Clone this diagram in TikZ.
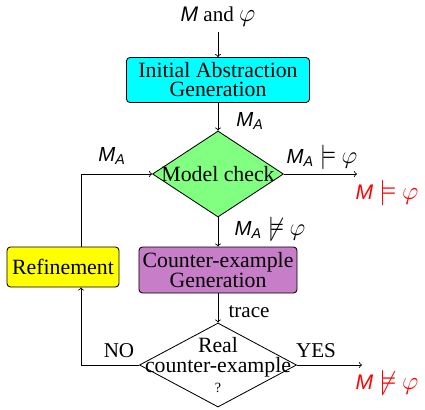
\RequirePackage{fix-cm}
\documentclass[tikz,border=0pt]{standalone}
\usepackage{amsmath}
\usepackage{graphicx}
\usepackage{fontspec}
\setmainfont{Liberation Serif}
\setsansfont{Liberation Sans}
\usetikzlibrary{shapes.geometric}

\newcommand{\sfit}[1]{\textsf{\itshape #1}}
\newcommand{\holdsrel}{\mathrel{\scalebox{1.2}{\(\models\)}}}
\newcommand{\failsrel}{\mathrel{\scalebox{1.2}{\(\not\models\)}}}
\newcommand{\prop}{\scalebox{1.2}{\(\varphi\)}}

\definecolor{abscyan}{RGB}{0,255,255}
\definecolor{checkgreen}{RGB}{128,255,128}
\definecolor{cexpurple}{RGB}{199,125,199}
\definecolor{refyellow}{RGB}{255,255,0}

\tikzset{
  stage/.style={draw, rounded corners=2.5pt, align=center, inner sep=0pt,
    font=\fontsize{15.5}{13.5}\selectfont},
  test/.style={draw, diamond, align=center, inner sep=-40pt,
    font=\fontsize{15.5}{14}\selectfont},
  lbl/.style={font=\fontsize{14.5}{16}\selectfont},
  res/.style={text=red, font=\fontsize{15}{17}\selectfont},
}

\begin{document}
\begin{tikzpicture}[x=0.025cm, y=-0.025cm, line width=0.6pt]
        \useasboundingbox (0,0) rectangle (425,409);
        \node[font=\fontsize{15}{17}\selectfont] (input) at (218,17) {\sfit{M} and \prop};
        \node[stage, fill=abscyan, minimum width=4.575cm, minimum height=1.125cm] (init) at (218,80) {Initial Abstraction\\Generation};
        \node[test, fill=checkgreen, minimum width=3.275cm, minimum height=2.15cm] (check) at (218,174) {Model check};
        \node[stage, fill=refyellow, minimum width=2.8cm, minimum height=1cm] (refine) at (63,267) {Refinement};
        \node[stage, fill=cexpurple, minimum width=3.95cm, minimum height=1.15cm] (cex) at (218,270) {Counter-example\\Generation};
        \node[test, minimum width=3.925cm, minimum height=2.1cm] (real) at (218,365) {Real\\counter-example\\{\fontsize{10}{12}\selectfont ?}};

        \coordinate (sat) at (357,174);
        \coordinate (unsat) at (362,365);
        \coordinate (lu) at (81,174);
        \coordinate (ld) at (81,365);

        \draw[->] (input) -- (init);
        \draw[->] (init) -- (check);
        \draw[->] (check) -- (cex);
        \draw[->] (cex) -- (real);
        \draw[->] (check) -- (sat);
        \draw[->] (real) -- (unsat);
        \draw[->] (lu |- refine.north) -- (lu) -- (check.west);
        \draw[->] (real.west) -- (ld) -- (ld |- refine.south);

        \node[lbl] (topMA) at (250,121) {\(\sfit{M}_{\sfit{A}}\)};
        \node[lbl] (leftMA) at (112,156) {\(\sfit{M}_{\sfit{A}}\)};
        \node[lbl] (models) at (322,157) {\(\sfit{M}_{\sfit{A}}\holdsrel\prop\)};
        \node[lbl] (notmodels) at (270,229) {\(\sfit{M}_{\sfit{A}}\failsrel\prop\)};
        \node[font=\fontsize{15}{17}\selectfont] (trace) at (249,312) {trace};
        \node[font=\fontsize{15}{17}\selectfont] (no) at (119,351) {NO};
        \node[font=\fontsize{15}{17}\selectfont] (yes) at (316,351) {YES};
        \node[res] (holds) at (387,193) {\(\sfit{M}\holdsrel\prop\)};
        \node[res] (fails) at (387,383) {\(\sfit{M}\failsrel\prop\)};
    \end{tikzpicture}
\end{document}
